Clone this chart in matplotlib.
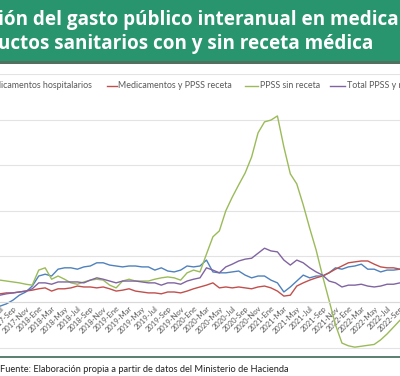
import matplotlib
matplotlib.use("Agg")

import matplotlib.pyplot as plt
from matplotlib.lines import Line2D
from matplotlib.patches import Rectangle

W, H = 400, 376

MESES = ["Ene", "Feb", "Mar", "Abr", "May", "Jun", "Jul", "Ago", "Sep", "Oct", "Nov", "Dic"]
# monthly series from 2017-Jul to 2022-Sep
periodos = [f"{2017 + (6 + i) // 12}-{MESES[(6 + i) % 12]}" for i in range(63)]

hospitalarios = [-0.9, -0.4, 0.4, 1.5, 2.2, 3.5,
                 5.7, 6.1, 5.7, 7.2, 7.5, 7.5, 7.2, 7.7, 7.9, 8.6,
                 8.6, 8.1, 7.9, 7.7, 7.9, 7.9, 7.7, 7.7, 7.0, 7.5,
                 6.8, 6.6, 7.0, 7.9, 7.7, 7.9, 9.2, 6.6, 6.4, 6.4,
                 6.6, 6.8, 5.9, 5.3, 5.7, 5.7, 4.8, 4.2, 2.2, 3.3,
                 4.6, 5.9, 5.3, 5.7, 5.7, 6.4, 7.5, 7.2, 7.7, 7.9,
                 8.3, 7.2, 7.2, 6.6, 7.0, 7.0, 7.2]
con_receta = [1.8, 2.0, 2.0, 2.2, 2.4, 2.6,
              2.9, 3.1, 2.4, 2.9, 2.9, 3.1, 3.5, 3.3, 3.3, 3.1,
              3.3, 2.9, 2.4, 2.6, 2.9, 2.4, 2.2, 2.0, 2.0, 1.8,
              2.2, 2.2, 2.0, 2.4, 2.9, 3.3, 3.7, 4.2, 3.1, 3.3,
              3.1, 3.3, 3.1, 2.9, 3.3, 3.5, 3.1, 2.4, 1.3, 1.5,
              3.5, 4.2, 4.8, 5.3, 5.7, 6.4, 7.2, 7.9, 8.6, 8.8,
              9.0, 9.0, 8.3, 7.7, 7.5, 7.5, 7.2]
sin_receta = [4.8, 4.6, 4.4, 4.2, 3.9, 3.7,
              7.0, 7.5, 5.0, 5.7, 5.0, 4.2, 3.9, 4.4, 4.8, 5.0,
              4.8, 3.7, 3.1, 4.6, 5.0, 4.6, 4.6, 4.6, 5.0, 5.3,
              5.5, 5.3, 4.8, 6.4, 7.0, 6.6, 10.5, 14.3, 15.6, 20.0,
              23.0, 25.7, 28.3, 31.8, 37.1, 39.5, 39.9, 40.8, 34.0, 28.1,
              25.9, 21.3, 16.2, 11.4, 5.7, 0.4, -5.0, -9.0, -9.6, -9.9,
              -9.7, -9.5, -9.3, -8.3, -7.0, -5.5, -4.0]
total = [1.5, 1.8, 2.0, 2.2, 2.4, 2.9,
         4.2, 4.2, 3.9, 4.4, 4.4, 4.4, 4.4, 4.2, 4.8, 5.3,
         5.0, 4.6, 4.2, 4.6, 4.6, 4.6, 4.4, 4.2, 4.2, 3.7,
         4.2, 4.2, 3.9, 4.6, 5.0, 5.3, 7.5, 7.0, 6.4, 7.7,
         8.3, 9.0, 9.4, 9.6, 10.7, 11.8, 11.2, 11.0, 9.2, 8.1,
         9.2, 8.6, 7.5, 6.6, 5.9, 4.6, 4.2, 3.3, 3.7, 3.7,
         3.9, 3.5, 3.3, 3.5, 3.9, 3.9, 4.2]

series = [
    ("Medicamentos hospitalarios", hospitalarios, "#4f81bd"),
    ("Medicamentos y PPSS receta", con_receta, "#c0504d"),
    ("PPSS sin receta", sin_receta, "#9bbb59"),
    ("Total PPSS y medicamentos", total, "#8064a2"),
]

plt.rcParams["font.family"] = ["Lato", "DejaVu Sans"]

fig = plt.figure(figsize=(W / 100, H / 100), dpi=100)
fig.patch.set_facecolor("white")


def px(x):
    return x / W


def py(y):
    return 1 - y / H


# plot area (crop of a wider chart)
ax = fig.add_axes([0, py(352), 1, (352 - 74) / H])
x = list(range(len(periodos)))
for name, vals, col in series:
    ax.plot(x, vals, color=col, lw=1.0, label=name)

ax.set_xlim(1.485, 60.31)
ax.set_ylim(-10.96, 50)
ax.set_yticks(range(-10, 51, 10))
ax.set_yticklabels([])
ax.yaxis.grid(True, color="#e3e3e3", lw=0.8)
ax.set_axisbelow(True)
for s in ["top", "right", "left"]:
    ax.spines[s].set_visible(False)
ax.spines["bottom"].set_position(("data", 0))
ax.spines["bottom"].set_color("#d9d9d9")
ax.spines["bottom"].set_linewidth(0.8)
ax.set_xticks(x[::2])
ax.set_xticklabels(periodos[::2], rotation=45, ha="right", rotation_mode="anchor",
                   fontsize=5.5, color="#595959")
ax.tick_params(axis="both", length=0, pad=2)
ax.set_facecolor("none")

# title banner
fig.add_artist(Rectangle((0, py(62)), 1, 62 / H, transform=fig.transFigure,
                         facecolor="#28956e", edgecolor="none"))
fig.add_artist(Rectangle((0, py(64)), 1, 2.5 / H, transform=fig.transFigure,
                         facecolor="#51705f", edgecolor="none"))

title_kw = dict(family=["Open Sans", "DejaVu Sans"], fontsize=13.6, fontweight="bold", color="white")
renderer = fig.canvas.get_renderer()
tmp = fig.text(0, 0, "Evoluci", **title_kw)
pre = tmp.get_window_extent(renderer=renderer).width
tmp.remove()
fig.text(px(4 - pre), py(20), "Evolución del gasto público interanual en medicamentos y",
         ha="left", va="center", **title_kw)
fig.text(px(373), py(44), "productos sanitarios con y sin receta médica",
         ha="right", va="center", **title_kw)

# legend
leg_y = py(86)
fig.text(px(92), leg_y, "Medicamentos hospitalarios", ha="right", va="center",
         fontsize=6.4, color="#595959")
leg_items = [(107, 117, 118, series[1]), (245, 258, 260, series[2]), (330, 345, 347, series[3])]
for x0, x1, xt, (name, _, col) in leg_items:
    fig.add_artist(Line2D([px(x0), px(x1)], [leg_y, leg_y], transform=fig.transFigure,
                          color=col, lw=1.0))
    fig.text(px(xt), leg_y, name, ha="left", va="center", fontsize=6.4, color="#595959")

# source
fig.add_artist(Rectangle((0, py(358)), 1, 2 / H, transform=fig.transFigure,
                         facecolor="#5b8272", edgecolor="none"))
fig.text(px(0), py(369), "Fuente: Elaboración propia a partir de datos del Ministerio de Hacienda",
         ha="left", va="center", fontsize=6.7, color="#222222")

fig.savefig("out.png", dpi=100)
